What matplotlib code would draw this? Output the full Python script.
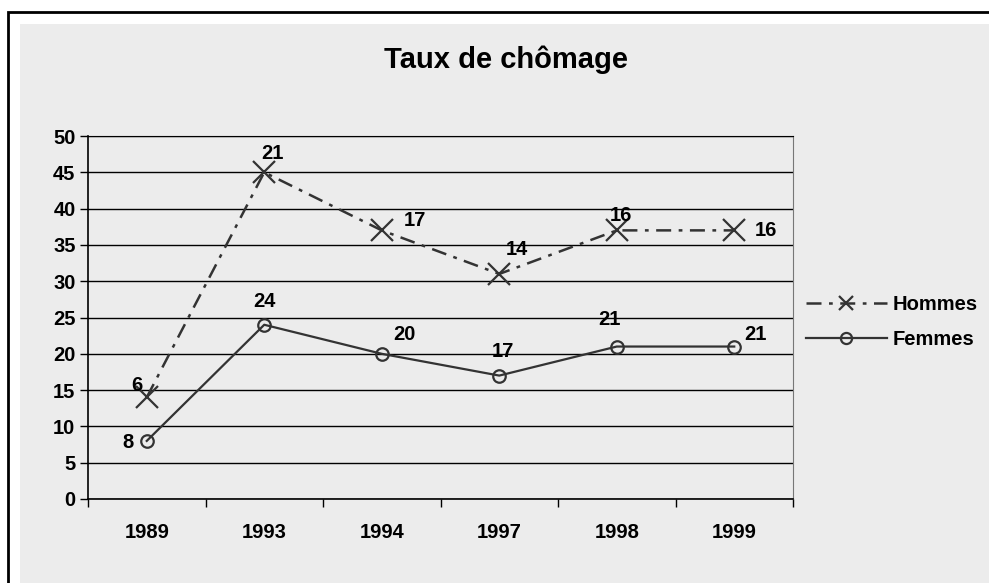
#!/usr/bin/env python3

import matplotlib.pyplot as plt
from matplotlib.lines import Line2D
from matplotlib.patches import Rectangle
import numpy as np

#################################################
### Données
#################################################

annees = ['1989', '1993', '1994', '1997', '1998', '1999']
femmes = [8, 24, 20, 17, 21, 21]
hommes = [6, 21, 17, 14, 16, 16]

titre = 'Taux de chômage'
y_ticks = [0, 5, 10, 15, 20, 25, 30, 35, 40, 45, 50]

# décalages des étiquettes (pixels), déplacées à la main dans l'original
decal_hommes = [(-10, 12), (8, 19), (33, 10), (18, 24), (4, 15), (32, 0)]
decal_femmes = [(-19, -2), (0, 23), (23, 19), (4, 24), (-7, 27), (21, 12)]

#################################################
### Figure
#################################################

W, H = 989, 583
fond = '#ECECEC'
trait = '#333333'
pointille = (0, (6, 3, 1.5, 3))

plt.rcParams['font.family'] = ['Liberation Sans', 'DejaVu Sans']
plt.rcParams['font.weight'] = 'bold'
plt.rcParams['font.size'] = 14.5

fig = plt.figure(figsize = (W / 100, H / 100), dpi = 100, facecolor = 'white')

# cadre noir + zone grise (débordent du bord comme dans l'original)
fig.patches.append(Rectangle((8 / W, -0.1), 1.2, 1 - 12 / H + 0.1, transform = fig.transFigure,
                             facecolor = 'none', edgecolor = 'black', linewidth = 2, zorder = -2))
fig.patches.append(Rectangle((20 / W, -0.1), 1.2, 1 - 24 / H + 0.1, transform = fig.transFigure,
                             facecolor = fond, edgecolor = 'none', zorder = -1))

ax = fig.add_axes([88 / W, 1 - 499 / H, (793 - 88) / W, (499 - 136) / H])
ax.set_facecolor(fond)

x = np.arange(len(annees))
cumul = np.array(femmes) + np.array(hommes)

# courbes (empilées comme dans Excel)
ax.plot(x, cumul, color = trait, linewidth = 1.8, linestyle = pointille,
        marker = 'x', markersize = 16, markeredgewidth = 1.6, zorder = 3)
ax.plot(x, femmes, color = trait, linewidth = 1.6, linestyle = '-',
        marker = 'o', markersize = 9, markerfacecolor = 'none', markeredgewidth = 1.6, zorder = 3)

for i in range(0, len(annees)):
    dx, dy = decal_hommes[i]
    ax.annotate(str(hommes[i]), (x[i], cumul[i]), xytext = (dx * 0.72, dy * 0.72),
                textcoords = 'offset points', ha = 'center', va = 'center')
    dx, dy = decal_femmes[i]
    ax.annotate(str(femmes[i]), (x[i], femmes[i]), xytext = (dx * 0.72, dy * 0.72),
                textcoords = 'offset points', ha = 'center', va = 'center')

# axes
ax.set_xlim(-0.5, len(annees) - 0.5)
ax.set_ylim(0, 50)
ax.set_yticks(y_ticks)
ax.yaxis.grid(True, color = 'black', linewidth = 1)
ax.set_axisbelow(True)

ax.set_xticks(x)
ax.set_xticklabels(annees)
ax.set_xticks(np.arange(-0.5, len(annees)), minor = True)
ax.tick_params(axis = 'x', which = 'major', length = 0, pad = 17)
ax.tick_params(axis = 'x', which = 'minor', length = 6, width = 1, color = 'black', direction = 'out')
ax.tick_params(axis = 'y', length = 6, width = 1, color = 'black', pad = 3)

for cote in ['left', 'bottom']:
    ax.spines[cote].set_color('black')
    ax.spines[cote].set_linewidth(1.2)
ax.spines['right'].set_color('#777777')
ax.spines['top'].set_color('black')

fig.text(506 / W, 1 - 60 / H, titre, ha = 'center', va = 'center', fontsize = 21, fontweight = 'bold')

# légende
poignees = [
    Line2D([], [], color = trait, linewidth = 1.8, linestyle = pointille,
           marker = 'x', markersize = 10, markeredgewidth = 1.6),
    Line2D([], [], color = trait, linewidth = 1.6, linestyle = '-',
           marker = 'o', markersize = 8, markerfacecolor = 'none', markeredgewidth = 1.6),
]
fig.legend(poignees, ['Hommes', 'Femmes'], loc = 'center left', bbox_to_anchor = (806 / W, 1 - 322 / H),
           frameon = False, handlelength = 4.0, handletextpad = 0.3, labelspacing = 0.75,
           borderpad = 0, borderaxespad = 0)

fig.savefig('out.png', dpi = 100, facecolor = 'white')
